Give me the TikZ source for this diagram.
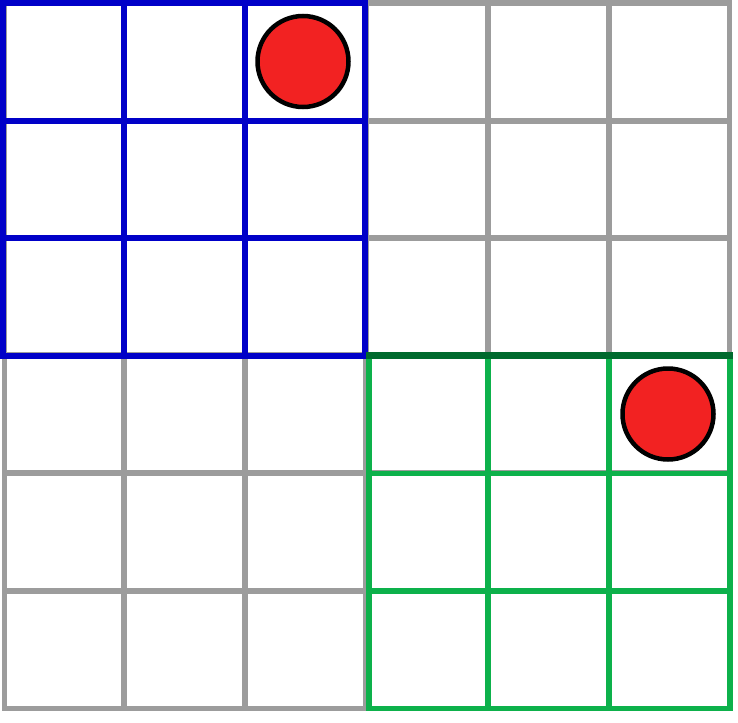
\documentclass[tikz,border=0pt]{standalone}
\usepackage{tikz}

\definecolor{cellgray}{HTML}{9C9C9C}
\definecolor{cellblue}{HTML}{0000C8}
\definecolor{cellgreen}{HTML}{0DB14B}
\definecolor{darkgreen}{HTML}{006A2E}
\definecolor{ballred}{HTML}{F22222}

\begin{document}
\begin{tikzpicture}[x=1pt,y=-1pt,
	gridgray/.style={cellgray, line width=5.5pt},
	gridblue/.style={cellblue, line width=6pt},
	gridgreen/.style={cellgreen, line width=5.5pt},
	ball/.style={fill=ballred, draw=black, line width=4.5pt}]

		\useasboundingbox[fill=white] (0,0) rectangle (738,722);

		% whole board
		\draw [gridgray](4.5,3) rectangle (729.5,708.5);
		\foreach \x in {124,245,366,488,609}
			\draw [gridgray](\x,3) -- (\x,708.5);
		\foreach \y in {121,238,355,473,591}
			\draw [gridgray](4.5,\y) -- (729.5,\y);

		% upper left block
		\draw [gridblue](3,3) rectangle (365,355.5);
		\draw [gridblue](123.5,3) -- (123.5,355.5);
		\draw [gridblue](244.5,3) -- (244.5,355.5);
		\draw [gridblue](3,121) -- (365,121);
		\draw [gridblue](3,238) -- (365,238);

		% lower right block
		\draw [gridgreen](369,355) rectangle (730,708.5);
		\draw [gridgreen](488,355) -- (488,708.5);
		\draw [gridgreen](609,355) -- (609,708.5);
		\draw [gridgreen](369,473.5) -- (730,473.5);
		\draw [gridgreen](369,591) -- (730,591);
		\draw [darkgreen, line width=7pt](366,355.5) -- (732.5,355.5);

		\draw [ball](303,61.5) circle (45.5);
		\draw [ball](668,414) circle (45.5);
	\end{tikzpicture}
\end{document}
